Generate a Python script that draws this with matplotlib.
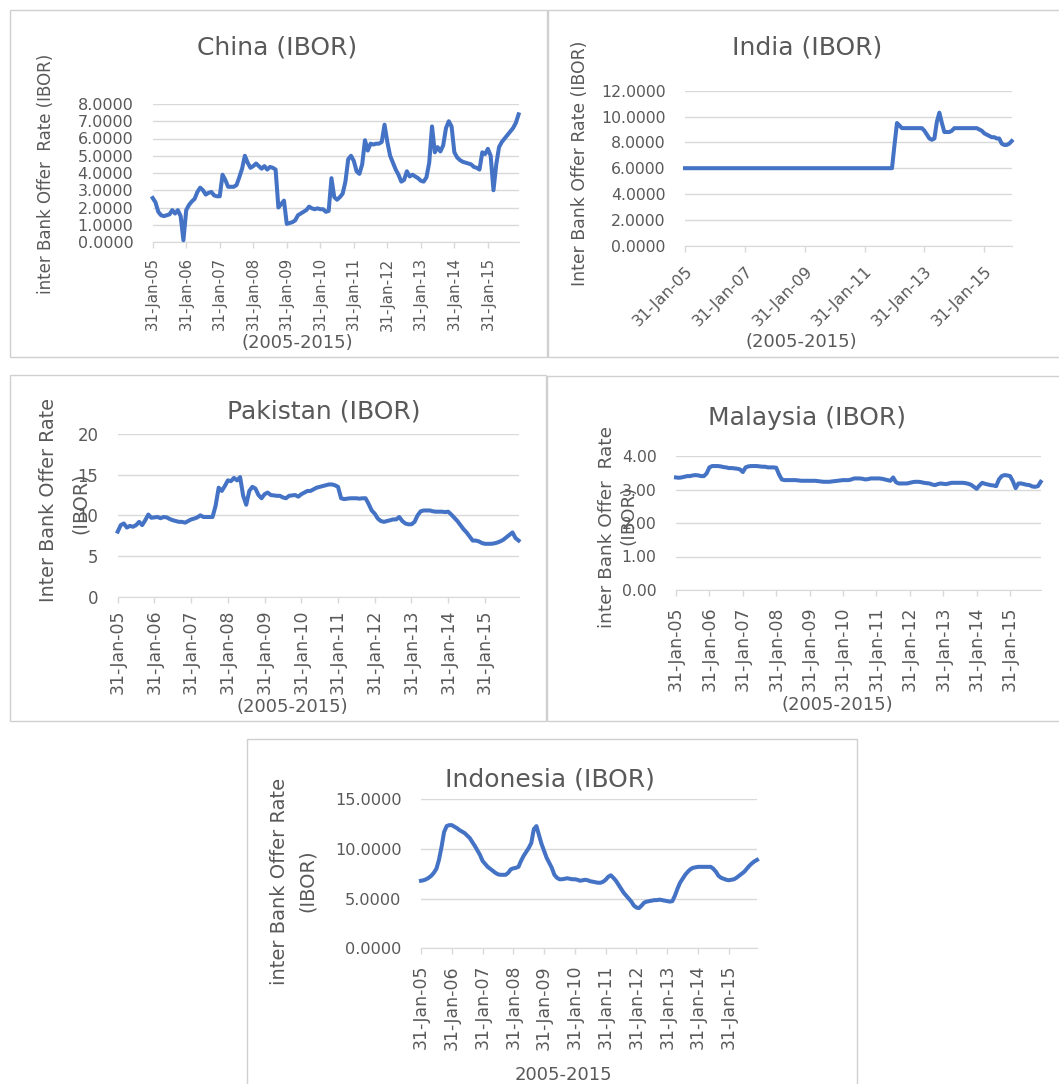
import numpy as np
import matplotlib
matplotlib.use("Agg")
import matplotlib.pyplot as plt
from matplotlib.patches import Rectangle
from matplotlib.ticker import FormatStrFormatter

# ── Canvas ────────────────────────────────────────────────────────────────────
W, H = 1059, 1084

# ── Data (monthly, Jan 2005 .. Dec 2015, one row per year) ───────────────────
YEAR_TICKS = ["31-Jan-05", "31-Jan-06", "31-Jan-07", "31-Jan-08", "31-Jan-09",
              "31-Jan-10", "31-Jan-11", "31-Jan-12", "31-Jan-13", "31-Jan-14",
              "31-Jan-15"]

CHINA = [
    2.55, 2.30, 1.75, 1.55, 1.50, 1.55, 1.60, 1.85, 1.65, 1.85, 1.50, 0.10,
    1.85, 2.15, 2.35, 2.50, 2.90, 3.15, 3.00, 2.75, 2.85, 2.90, 2.70, 2.65,
    2.65, 3.90, 3.60, 3.20, 3.20, 3.20, 3.30, 3.75, 4.25, 5.00, 4.60, 4.30,
    4.40, 4.55, 4.40, 4.25, 4.40, 4.20, 4.35, 4.30, 4.20, 2.00, 2.20, 2.40,
    1.05, 1.10, 1.15, 1.25, 1.55, 1.65, 1.75, 1.85, 2.05, 1.95, 1.90, 1.95,
    1.90, 1.90, 1.75, 1.80, 3.70, 2.60, 2.45, 2.60, 2.80, 3.50, 4.80, 5.00,
    4.70, 4.10, 3.95, 4.50, 5.90, 5.30, 5.70, 5.65, 5.70, 5.70, 5.80, 6.80,
    5.80, 5.00, 4.60, 4.20, 3.90, 3.50, 3.60, 4.10, 3.80, 3.90, 3.80, 3.70,
    3.55, 3.50, 3.75, 4.60, 6.70, 5.20, 5.50, 5.25, 5.60, 6.60, 7.00, 6.70,
    5.20, 4.90, 4.75, 4.65, 4.60, 4.55, 4.50, 4.35, 4.30, 4.20, 5.20, 5.10,
    5.40, 5.00, 3.00, 4.50, 5.50, 5.80, 6.00, 6.20, 6.40, 6.60, 6.90, 7.40,
]

INDIA = [
    6.0, 6.0, 6.0, 6.0, 6.0, 6.0, 6.0, 6.0, 6.0, 6.0, 6.0, 6.0,
    6.0, 6.0, 6.0, 6.0, 6.0, 6.0, 6.0, 6.0, 6.0, 6.0, 6.0, 6.0,
    6.0, 6.0, 6.0, 6.0, 6.0, 6.0, 6.0, 6.0, 6.0, 6.0, 6.0, 6.0,
    6.0, 6.0, 6.0, 6.0, 6.0, 6.0, 6.0, 6.0, 6.0, 6.0, 6.0, 6.0,
    6.0, 6.0, 6.0, 6.0, 6.0, 6.0, 6.0, 6.0, 6.0, 6.0, 6.0, 6.0,
    6.0, 6.0, 6.0, 6.0, 6.0, 6.0, 6.0, 6.0, 6.0, 6.0, 6.0, 6.0,
    6.0, 6.0, 6.0, 6.0, 6.0, 6.0, 6.0, 6.0, 6.0, 6.0, 6.0, 6.0,
    7.8, 9.5, 9.3, 9.1, 9.1, 9.1, 9.1, 9.1, 9.1, 9.1, 9.1, 9.1,
    8.9, 8.6, 8.3, 8.2, 8.3, 9.6, 10.3, 9.5, 8.8, 8.8, 8.8, 8.9,
    9.1, 9.1, 9.1, 9.1, 9.1, 9.1, 9.1, 9.1, 9.1, 9.1, 9.0, 8.9,
    8.7, 8.6, 8.5, 8.4, 8.4, 8.3, 8.3, 7.9, 7.8, 7.8, 7.9, 8.1,
]

PAKISTAN = [
    8.0, 8.8, 9.0, 8.5, 8.7, 8.6, 8.8, 9.2, 8.8, 9.4, 10.1, 9.7,
    9.75, 9.8, 9.65, 9.8, 9.75, 9.55, 9.4, 9.3, 9.2, 9.2, 9.1, 9.3,
    9.5, 9.6, 9.75, 10.0, 9.8, 9.8, 9.8, 9.8, 11.2, 13.4, 13.0, 13.6,
    14.3, 14.2, 14.6, 14.3, 14.7, 12.4, 11.3, 13.0, 13.5, 13.3, 12.5, 12.1,
    12.6, 12.8, 12.5, 12.45, 12.4, 12.4, 12.2, 12.1, 12.4, 12.45, 12.5, 12.3,
    12.6, 12.8, 13.0, 13.0, 13.2, 13.4, 13.5, 13.6, 13.7, 13.8, 13.8, 13.7,
    13.5, 12.1, 12.0, 12.05, 12.1, 12.1, 12.1, 12.05, 12.1, 12.1, 11.4, 10.6,
    10.2, 9.6, 9.3, 9.2, 9.3, 9.4, 9.5, 9.5, 9.8, 9.3, 9.0, 8.9,
    8.9, 9.2, 10.0, 10.5, 10.6, 10.6, 10.6, 10.5, 10.45, 10.45, 10.45, 10.4,
    10.45, 10.1, 9.7, 9.3, 8.8, 8.3, 7.9, 7.4, 6.9, 6.9, 6.8, 6.6,
    6.5, 6.5, 6.5, 6.55, 6.65, 6.8, 7.0, 7.3, 7.6, 7.9, 7.2, 6.9,
]

MALAYSIA = [
    3.36, 3.35, 3.36, 3.38, 3.40, 3.40, 3.42, 3.43, 3.42, 3.40, 3.40, 3.48,
    3.66, 3.70, 3.70, 3.70, 3.69, 3.67, 3.66, 3.64, 3.64, 3.63, 3.62, 3.60,
    3.52, 3.66, 3.69, 3.70, 3.70, 3.70, 3.69, 3.68, 3.68, 3.66, 3.66, 3.66,
    3.65, 3.45, 3.30, 3.28, 3.28, 3.28, 3.28, 3.28, 3.27, 3.26, 3.26, 3.26,
    3.26, 3.26, 3.26, 3.25, 3.24, 3.23, 3.23, 3.23, 3.24, 3.25, 3.26, 3.27,
    3.28, 3.28, 3.28, 3.30, 3.33, 3.33, 3.33, 3.32, 3.30, 3.31, 3.33, 3.33,
    3.33, 3.33, 3.32, 3.30, 3.28, 3.26, 3.36, 3.22, 3.18, 3.18, 3.18, 3.18,
    3.20, 3.22, 3.23, 3.23, 3.22, 3.20, 3.19, 3.18, 3.15, 3.13, 3.16, 3.18,
    3.17, 3.16, 3.18, 3.20, 3.20, 3.20, 3.20, 3.20, 3.19, 3.17, 3.14, 3.08,
    3.02, 3.12, 3.20, 3.17, 3.15, 3.13, 3.12, 3.10, 3.30, 3.40, 3.43, 3.42,
    3.40, 3.25, 3.04, 3.18, 3.18, 3.16, 3.14, 3.13, 3.09, 3.08, 3.10, 3.23,
]

INDONESIA = [
    6.8, 6.85, 6.95, 7.1, 7.3, 7.6, 8.0, 8.9, 10.2, 11.7, 12.3, 12.4,
    12.4, 12.25, 12.1, 11.9, 11.75, 11.6, 11.35, 11.1, 10.7, 10.3, 9.85, 9.4,
    8.8, 8.5, 8.2, 8.0, 7.8, 7.6, 7.45, 7.4, 7.4, 7.4, 7.6, 7.95,
    8.05, 8.1, 8.2, 8.8, 9.3, 9.7, 10.1, 10.6, 12.0, 12.3, 11.4, 10.5,
    9.8, 9.1, 8.6, 8.1, 7.4, 7.1, 6.95, 6.95, 7.0, 7.05, 7.0, 6.95,
    6.95, 6.9, 6.8, 6.85, 6.9, 6.85, 6.75, 6.7, 6.65, 6.6, 6.6, 6.7,
    6.9, 7.2, 7.35, 7.1, 6.8, 6.4, 6.0, 5.6, 5.3, 5.0, 4.7, 4.3,
    4.1, 4.05, 4.3, 4.6, 4.7, 4.75, 4.8, 4.85, 4.85, 4.9, 4.85, 4.8,
    4.75, 4.7, 4.75, 5.3, 6.0, 6.6, 7.0, 7.4, 7.7, 7.95, 8.1, 8.15,
    8.2, 8.2, 8.2, 8.2, 8.2, 8.2, 8.0, 7.7, 7.3, 7.1, 7.0, 6.9,
    6.85, 6.9, 6.95, 7.1, 7.3, 7.5, 7.7, 8.0, 8.3, 8.55, 8.75, 8.9,
]

# ── Style ─────────────────────────────────────────────────────────────────────
BLUE  = "#4472C4"
TXT   = "#595959"
GRID  = "#d9d9d9"
FRAME = "#d0d0d0"

plt.rcParams["font.family"] = ["DejaVu Sans"]

fig = plt.figure(figsize=(W / 100, H / 100), dpi=100)


def fx(x):
    return x / W


def fy(y):
    return 1 - y / H


def frame(l, t, r, b):
    fig.add_artist(Rectangle((fx(l), fy(b)), (r - l) / W, (b - t) / H,
                             transform=fig.transFigure, fill=False,
                             ec=FRAME, lw=1.0))


def label(x, y, s, size, rot=0):
    fig.text(fx(x), fy(y), s, fontsize=size, color=TXT, rotation=rot,
             ha="center", va="center")


def panel(px, values, ymax, ystep, fmt, every=1, rot=90,
          xfs=12, yfs=11.5, xpad=6):
    l, t, r, b = px
    ax = fig.add_axes([fx(l), fy(b), (r - l) / W, (b - t) / H])
    ax.set_facecolor("none")
    months = np.arange(len(values))
    ax.plot(months, values, color=BLUE, lw=2.9, solid_joinstyle="round",
            clip_on=False, zorder=3)
    ax.set_xlim(0, len(values) - 1)
    ax.set_ylim(0, ymax)

    ax.set_yticks(np.arange(0, ymax + ystep / 2, ystep))
    ax.yaxis.set_major_formatter(FormatStrFormatter(fmt))
    ax.yaxis.grid(True, color=GRID, lw=1.0)
    ax.set_axisbelow(True)
    ax.tick_params(axis="y", length=0, pad=14, labelsize=yfs, labelcolor=TXT)

    ax.set_xticks(np.arange(0, len(values), 12 * every))
    ax.set_xticklabels(YEAR_TICKS[::every])
    ax.tick_params(axis="x", length=4, width=1, color=GRID, pad=xpad,
                   labelsize=xfs, labelcolor=TXT)
    for lbl in ax.get_xticklabels():
        lbl.set_rotation(rot)
        if rot != 90:
            lbl.set_ha("right")
            lbl.set_rotation_mode("anchor")

    for side in ["top", "right", "left"]:
        ax.spines[side].set_visible(False)
    ax.spines["bottom"].set_color(GRID)
    return ax


# ── Panel frames ──────────────────────────────────────────────────────────────
frame(10, 10, 547, 357)
frame(548, 10, 1070, 357)
frame(10, 375, 546, 721)
frame(547, 376, 1070, 721)
frame(247, 739, 857, 1095)

# ── China ─────────────────────────────────────────────────────────────────────
panel((152.7, 104, 518.6, 242), CHINA, 8, 1, "%.4f", xfs=10.8, yfs=11.5, xpad=7)
label(277, 48, "China (IBOR)", 18)
label(45.6, 174, "inter Bank Offer  Rate (IBOR)", 12, rot=90)
label(297, 343, "(2005-2015)", 13)

# ── India ─────────────────────────────────────────────────────────────────────
panel((685, 90.7, 1011.7, 245.7), INDIA, 12, 2, "%.4f", every=2, rot=45,
      xfs=11.5, yfs=11.3, xpad=9)
label(807.5, 48, "India (IBOR)", 18)
label(580, 163, "Inter Bank Offer Rate (IBOR)", 12.4, rot=90)
label(801.7, 341.7, "(2005-2015)", 13)

# ── Pakistan ──────────────────────────────────────────────────────────────────
panel((117.7, 434, 518.6, 596.7), PAKISTAN, 20, 5, "%d",
      xfs=12.5, yfs=11.9, xpad=5)
label(323.7, 411.7, "Pakistan (IBOR)", 18)
label(49, 500, "Inter Bank Offer Rate", 13.8, rot=90)
label(80.7, 503, "(IBOR)", 13.8, rot=90)
label(292, 707, "(2005-2015)", 13)

# ── Malaysia ──────────────────────────────────────────────────────────────────
panel((676, 456, 1040.7, 590), MALAYSIA, 4, 1, "%.2f",
      xfs=12.5, yfs=11.3, xpad=8)
label(807.5, 418, "Malaysia (IBOR)", 18)
label(606.7, 527, "inter Bank Offer  Rate", 13.3, rot=90)
label(628, 515, "(IBOR)", 13.3, rot=90)
label(837, 705, "(2005-2015)", 13)

# ── Indonesia ─────────────────────────────────────────────────────────────────
panel((421, 799.3, 757, 948.3), INDONESIA, 15, 5, "%.4f",
      xfs=12.5, yfs=11.6, xpad=8)
label(550, 780, "Indonesia (IBOR)", 18)
label(279.5, 881, "inter Bank Offer Rate", 14, rot=90)
label(307, 881, "(IBOR)", 14, rot=90)
label(563, 1075, "2005-2015", 13)

fig.savefig("out.png", dpi=100, facecolor="white")
